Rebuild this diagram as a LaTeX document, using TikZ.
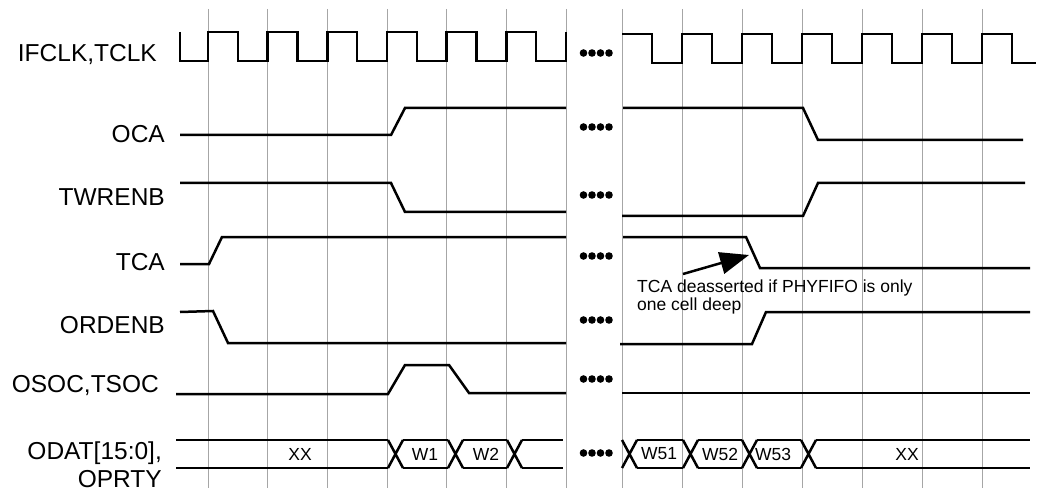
\documentclass[tikz,border=0pt]{standalone}
\usepackage{fontspec}
\setmainfont{Liberation Sans}
\usetikzlibrary{arrows.meta}

\begin{document}
\begin{tikzpicture}[x=1pt,y=-1pt,>=Latex,
    every node/.style={inner sep=0pt},
    grid/.style={black!35,line width=1pt},
    sig/.style={line width=2.5pt},
    lbl/.style={anchor=base east,align=right,font=\fontsize{24.5}{28}\selectfont},
    val/.style={font=\fontsize{17.5}{18}\selectfont},
    note/.style={anchor=base west,align=left,font=\fontsize{17.5}{18}\selectfont}]
  \useasboundingbox (0,0) rectangle (1037,492);
  % time grid
  \foreach \i in {0,...,6} {
    \draw[grid] (208+59.67*\i,9) -- (208+59.67*\i,488);
    \draw[grid] (622+60*\i,9) -- (622+60*\i,488);
  }
  % signal names
  \node[lbl] (lclk) at (157,62) {IFCLK,TCLK};
  \node[lbl] (loca) at (165,143) {OCA};
  \node[lbl] (ltwr) at (165,205) {TWRENB};
  \node[lbl] (ltca) at (165,270) {TCA};
  \node[lbl] (lord) at (165,333) {ORDENB};
  \node[lbl] (lsoc) at (159,392) {OSOC,TSOC};
  \node[lbl] (ldat) at (162,487) {ODAT[15:0],\\OPRTY};
  % clock
  \draw[sig] (180,32) -- (180,61) -- (208,61)
    \foreach \i in {0,...,5} { -- ++(0,-29) -- ++(29.8,0) -- ++(0,29) -- ++(29.87,0) } -- ++(0,-29);
  \draw[sig] (622,34)
    \foreach \i in {0,...,5} { -- ++(30,0) -- ++(0,29) -- ++(30,0) -- ++(0,-29) }
    -- ++(30,0) -- ++(0,29) -- (1036,63);
  % control lines
  \draw[sig] (180,135) -- (391,135) -- (405,108) -- (566,108);
  \draw[sig] (623,108) -- (803,108) -- (818,140) -- (1023,140);
  \draw[sig] (180,183) -- (391,183) -- (405,212) -- (566,212);
  \draw[sig] (622,216) -- (803,216) -- (818,183) -- (1025,183);
  \draw[sig] (180,264) -- (209,264) -- (222,237) -- (566,237);
  \draw[sig] (623,237) -- (746,237) -- (760,268) -- (1030,268);
  \draw[sig] (180,312) -- (213,311) -- (228,343) -- (566,343);
  \draw[sig] (620,344) -- (752,344) -- (766,312) -- (1030,312);
  \draw[sig] (176,394) -- (388,394) -- (405,365) -- (449,365) -- (469,393) -- (566,393);
  \draw[sig] (622,393) -- (1030,393);
  % data bus
  \draw[sig] (176,440) -- (388,440) (176,468) -- (388,468);
  \foreach \t in {388,448,507,622,683,742,801}
    \draw[sig] (\t,440) -- (\t+15,468) (\t,468) -- (\t+15,440);
  \foreach \a/\b in {403/448,463/507,522/563,637/683,698/742,757/801,816/1030}
    \draw[sig] (\a,440) -- (\b,440) (\a,468) -- (\b,468);
  \node[val] (xxa) at (300,454) {XX};
  \node[val] (w1) at (425,454) {W1};
  \node[val] (w2) at (486,454) {W2};
  \node[val] (w51) at (659,454) {W51};
  \node[val] (w52) at (720,454) {W52};
  \node[val] (w53) at (773,454) {W53};
  \node[val] (xxb) at (907,454) {XX};
  % skipped cycles
  \foreach \y in {53,127,195,256,320,379,453}
    \foreach \x in {583.5,592,600.5,609}
      \fill (\x,\y) circle (3.8pt);
  % note
  \node[note] (note) at (637,310) {TCA deasserted if PHYFIFO is only\\one cell deep};
  \coordinate (notetail) at (683,274);
  \coordinate (tcafall) at (749,255);
  \draw[sig,-{Triangle[length=29pt,width=22pt]}] (notetail) -- (tcafall);
\end{tikzpicture}
\end{document}
